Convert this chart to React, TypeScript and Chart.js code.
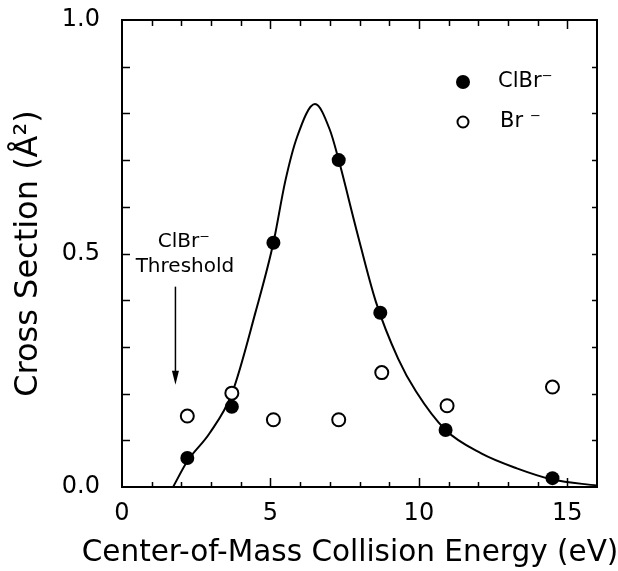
import React, { useEffect, useRef } from "react";
import { Chart, registerables } from "chart.js";

Chart.register(...registerables);

// ---- data ----
const CLBR_ENERGY = [2.2, 3.7, 5.1, 7.3, 8.7, 10.9, 14.5];
const CLBR_CROSS = [0.062, 0.172, 0.523, 0.7, 0.373, 0.122, 0.019];

const BR_ENERGY = [2.2, 3.7, 5.1, 7.3, 8.75, 10.95, 14.5];
const BR_CROSS = [0.152, 0.201, 0.144, 0.144, 0.245, 0.174, 0.214];

const FIT_ENERGY = [1.72, 2.2, 2.95, 3.7, 4.5, 5.1, 5.5, 5.9, 6.5, 7.0, 7.3, 7.9, 8.55, 9.3, 9.9, 10.9, 12.1, 13.3, 14.5, 16.0];
const FIT_CROSS = [0.0, 0.055, 0.115, 0.2, 0.375, 0.523, 0.655, 0.75, 0.82, 0.765, 0.7, 0.55, 0.397, 0.275, 0.205, 0.122, 0.072, 0.04, 0.016, 0.003];

const X_TICKS = [0, 5, 10, 15];
const Y_TICKS = [0.0, 0.5, 1.0];
const X_RANGE = [0, 16];
const Y_RANGE = [0, 1];

const SERIES_LABELS = ["ClBr\u207B", "Br \u207B"];
const X_TITLE = "Center-of-Mass Collision Energy (eV)";
const Y_TITLE = "Cross Section (\u00C5\u00B2)";
const THRESHOLD_LINES = ["ClBr\u207B", "Threshold"];
const THRESHOLD_ENERGY = 1.8;

const FONT = "'DejaVu Sans', sans-serif";

const framePlugin = {
  id: "frame",
  afterDatasetsDraw(chart: any) {
    const { ctx, chartArea, scales } = chart;
    const { left, right, top, bottom } = chartArea;
    const x = scales.x;
    const y = scales.y;
    ctx.save();
    ctx.strokeStyle = "#000";
    ctx.lineWidth = 2;
    ctx.strokeRect(left, top, right - left, bottom - top);
    ctx.lineWidth = 1.5;
    ctx.beginPath();
    // x ticks (every 1 unit)
    for (let v = X_RANGE[0] + 1; v < X_RANGE[1]; v += 1) {
      const px = Math.round(x.getPixelForValue(v)) + 0.5;
      const major = v % 5 === 0;
      ctx.moveTo(px, bottom);
      ctx.lineTo(px, bottom - (major ? 9 : 5));
      ctx.moveTo(px, top);
      ctx.lineTo(px, top + (major ? 9 : 6));
    }
    // y ticks (every 0.1)
    for (let i = 1; i < 10; i++) {
      const v = i / 10;
      const py = Math.round(y.getPixelForValue(v)) + 0.5;
      ctx.moveTo(left, py);
      ctx.lineTo(left + 8, py);
      ctx.moveTo(right, py);
      ctx.lineTo(right - 5, py);
    }
    ctx.stroke();

    // x-axis title
    ctx.fillStyle = "#000";
    ctx.font = `29.5px ${FONT}`;
    ctx.textAlign = "center";
    ctx.textBaseline = "middle";
    ctx.fillText(X_TITLE, left + (right - left) * 0.48, bottom + 66);

    // threshold annotation
    const ax = x.getPixelForValue(THRESHOLD_ENERGY);
    ctx.font = `20px ${FONT}`;
    ctx.fillText(THRESHOLD_LINES[0], x.getPixelForValue(2.08), y.getPixelForValue(0.524));
    ctx.fillText(THRESHOLD_LINES[1], x.getPixelForValue(2.12), y.getPixelForValue(0.472));
    const y0 = y.getPixelForValue(0.429);
    const y1 = y.getPixelForValue(0.219);
    ctx.lineWidth = 1.5;
    ctx.beginPath();
    ctx.moveTo(ax, y0);
    ctx.lineTo(ax, y1 - 10);
    ctx.stroke();
    ctx.beginPath();
    ctx.moveTo(ax - 3.5, y1 - 14);
    ctx.lineTo(ax + 3.5, y1 - 14);
    ctx.lineTo(ax, y1);
    ctx.closePath();
    ctx.fill();

    // legend
    const lx = right - 134;
    const ly = [top + 62, top + 102];
    ctx.beginPath();
    ctx.arc(lx, ly[0], 7, 0, Math.PI * 2);
    ctx.fill();
    ctx.beginPath();
    ctx.lineWidth = 2;
    ctx.arc(lx, ly[1], 5.5, 0, Math.PI * 2);
    ctx.stroke();
    ctx.font = `21px ${FONT}`;
    ctx.textAlign = "left";
    ctx.fillText(SERIES_LABELS[0], lx + 35, ly[0]);
    ctx.fillText(SERIES_LABELS[1], lx + 37, ly[1]);
    ctx.restore();
  },
};

export default function App() {
  const ref = useRef<HTMLCanvasElement | null>(null);

  useEffect(() => {
    if (!ref.current) return;
    const chart = new Chart(ref.current, {
      type: "scatter",
      data: {
        datasets: [
          {
            label: SERIES_LABELS[0],
            data: CLBR_ENERGY.map((e, i) => ({ x: e, y: CLBR_CROSS[i] })),
            pointRadius: 7,
            pointBackgroundColor: "#000",
            pointBorderColor: "#000",
            pointBorderWidth: 0,
          },
          {
            label: SERIES_LABELS[1],
            data: BR_ENERGY.map((e, i) => ({ x: e, y: BR_CROSS[i] })),
            pointRadius: 6.5,
            pointBackgroundColor: "#fff",
            pointBorderColor: "#000",
            pointBorderWidth: 2,
          },
          {
            label: "fit",
            data: FIT_ENERGY.map((e, i) => ({ x: e, y: FIT_CROSS[i] })),
            showLine: true,
            pointRadius: 0,
            borderColor: "#000",
            borderWidth: 2,
            cubicInterpolationMode: "monotone",
          } as any,
        ],
      },
      options: {
        animation: false,
        responsive: true,
        maintainAspectRatio: false,
        layout: { padding: { top: 20, right: 21, left: 0, bottom: 0 } },
        plugins: { legend: { display: false }, tooltip: { enabled: false } },
        scales: {
          x: {
            type: "linear",
            min: X_RANGE[0],
            max: X_RANGE[1],
            afterBuildTicks: (s: any) => {
              s.ticks = X_TICKS.map((v) => ({ value: v }));
            },
            afterFit: (s: any) => {
              s.height = 84;
              s.paddingLeft = 0;
              s.paddingRight = 0;
            },
            grid: { display: false, drawTicks: false },
            border: { display: false },
            ticks: {
              color: "#000",
              font: { family: FONT, size: 24 },
              padding: 12,
              maxRotation: 0,
            },
            title: { display: false },
          },
          y: {
            type: "linear",
            min: Y_RANGE[0],
            max: Y_RANGE[1],
            afterBuildTicks: (s: any) => {
              s.ticks = Y_TICKS.map((v) => ({ value: v }));
            },
            afterFit: (s: any) => {
              s.width = 122;
              s.paddingTop = 0;
              s.paddingBottom = 0;
            },
            grid: { display: false, drawTicks: false },
            border: { display: false },
            ticks: {
              color: "#000",
              font: { family: FONT, size: 24 },
              padding: 22,
              callback: (v: any) => Number(v).toFixed(1),
            },
            title: {
              display: true,
              text: Y_TITLE,
              color: "#000",
              font: { family: FONT, size: 32 },
              padding: { top: 9, bottom: 0 },
            },
          },
        },
      },
      plugins: [framePlugin],
    });
    return () => chart.destroy();
  }, []);

  return (
    <div style={{ position: "fixed", left: 0, top: 0, width: 618, height: 571, background: "#fff" }}>
      <canvas ref={ref} />
    </div>
  );
}
